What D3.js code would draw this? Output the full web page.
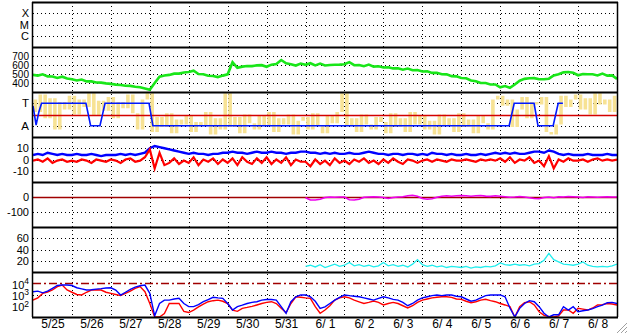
<!DOCTYPE html>
<html><head><meta charset="utf-8">
<script src="https://cdn.jsdelivr.net/npm/d3@7"></script>
<style>
body{margin:0;background:#fff}
svg{display:block}
</style>
</head><body>
<svg id="c" width="628" height="334"></svg>
<script>
// ---------------- DATA ----------------
const dayLabels = ["5/25","5/26","5/27","5/28","5/29","5/30","5/31","6/ 1","6/ 2","6/ 3","6/ 4","6/ 5","6/ 6","6/ 7","6/ 8"];
const stepsPerDay = 8;          // 3-hour samples
const fieldStartDay = 7;        // magenta / cyan series begin 6/1

const xrayTicks = [1e-4, 1e-5, 1e-6];
const xrayLabels = ["X","M","C"];
const speedTicks = [700,600,500,400];
const sectorTicks = [270, 90];
const sectorLabels = ["T","A"];
const sectorMid = 180;
const bTicks = [10,0,-10];
const hpTicks = [0,-100];
const densTicks = [60,40,20];
const protonTicks = [1e4,1e3,1e2];
const protonExp = ["4","3","2"];
const protonThreshold = 1e4;

const speed = [
 490,482,496,474,472,456,470,450,
 442,428,438,418,418,406,404,396,
 390,382,378,370,368,358,352,340,
 325,400,470,484,490,504,504,516,
 522,536,500,498,480,478,466,482,
 496,630,568,582,588,588,596,598,
 580,604,612,655,618,608,594,616,
 602,620,596,616,594,600,602,604,
 608,632,598,600,586,604,582,586,
 572,574,562,564,548,560,542,544,
 528,530,512,514,498,496,476,474,
 456,452,428,420,400,400,384,384,
 352,366,346,384,426,446,452,454,
 442,442,448,484,498,518,522,514,
 486,500,498,498,484,504,482,484,
 445];

const phi = [
 300,200,340,150,310,60,280,220,
 330,180,300,240,350,170,290,210,
 320,150,280,230,340,190,60,300,
 350,40,160,80,190,30,140,100,
 170,40,120,90,200,20,150,60,
 350,80,160,30,180,110,60,170,
 90,200,40,150,100,180,20,130,
 160,60,190,90,30,170,110,200,
 350,90,150,40,180,100,60,160,
 120,30,190,80,150,40,200,100,
 170,60,130,20,180,90,150,40,
 190,80,140,30,170,110,60,300,
 330,250,300,80,220,320,150,280,
 260,320,40,20,100,330,240,300,
 340,220,310,180,350,260,300,200,
 330];

// sector line: [day, degrees]
const sectorDays = [0,0.08,0.15,0.22,1.36,1.48,1.72,1.85,2.98,3.08,12.23,12.36,12.87,12.97,13.36,13.49,13.61];
const sectorVals = [248,96,200,270,270,90,90,270,270,90,90,270,270,90,90,270,270];

const bt = [
 4,5,4,6,5,4,5,4,
 4,5,4,4,5,4,3,4,
 4,4,5,4,5,4,5,6,
 10,12,11,10,9,8,7,6,
 5,6,5,5,4,5,5,6,
 6,7,6,6,5,6,7,6,
 6,7,6,6,5,6,6,7,
 7,6,6,5,6,5,6,5,
 5,6,5,5,6,7,6,5,
 5,4,5,5,4,5,5,4,
 5,4,6,5,5,4,5,4,
 4,5,4,4,5,4,5,6,
 5,6,5,6,5,5,6,7,
 7,6,8,7,5,4,5,4,
 4,4,5,4,4,4,5,4,
 4];

const bz = [
 -1,0,-2,1,-3,-1,0,-2,
 -1,-2,0,-1,-3,0,-1,-2,
 0,-1,-3,0,1,-2,-1,2,
 9,-8,6,-5,-3,1,-4,-1,
 -3,2,-5,0,-2,1,-4,0,
 -3,1,-5,2,-2,-4,1,-3,
 2,-4,0,-3,2,-5,0,-2,
 -2,-6,0,-4,-1,-5,1,-3,
 -1,-4,0,-2,1,-3,-1,-4,
 0,-3,1,-2,-4,0,-1,-3,
 -1,0,-2,0,-1,-2,0,-1,
 -1,0,-1,-2,0,-1,0,-1,
 1,-2,2,-3,0,-1,2,-3,
 -1,-6,3,-8,0,-2,1,-1,
 -1,0,-2,0,1,-1,0,-1,
 0];

const hp = [
 -5,-20,-20,-15,-3,0,-2,0,
 0,-18,-20,-15,-2,0,2,0,
 -3,-10,-3,0,2,8,12,5,
 -10,-15,-12,-2,5,8,5,8,
 10,8,5,8,10,6,4,8,
 5,2,-2,0,3,0,-5,-10,
 -12,-3,0,-5,2,0,3,2,
 0,-3,2,0,-2,0,2,0,
 0];

const dens = [
 10,12,9,13,8,11,14,10,
 12,17,11,13,10,12,9,11,
 17,11,13,10,12,9,14,22,
 13,10,12,9,11,8,10,9,
 8,10,7,9,8,10,9,11,
 16,13,12,14,12,13,11,14,
 15,21,33,22,18,14,13,12,
 14,18,12,10,9,10,9,11,
 14];

// proton flux, log10 exponents
const fluxBlueExp = [
 3.25,3.3,3.15,3.3,3.55,3.8,3.85,3.85,
 3.8,3.6,3.5,3.4,3.42,3.48,3.52,3.58,
 3.6,3.4,2.95,3.2,3.45,3.65,3.78,3.84,
 3.1,1.1,2.2,2.5,2.5,2.6,2.66,2.2,
 1.92,1.92,2.1,2.36,2.55,2.75,2.7,2.66,
 2.2,1.62,1.92,2.05,2.2,2.3,2.36,2.5,
 2.55,2.56,2.5,1.92,1.33,2.36,2.8,2.96,
 2.96,2.8,2.4,1.77,1.9,2.2,2.5,2.75,
 2.96,2.9,2.85,2.8,2.7,2.6,2.5,2.65,
 2.8,2.7,2.57,2.5,2.3,2.0,2.2,2.5,
 2.7,2.8,2.9,2.95,2.9,2.95,2.96,2.85,
 2.8,2.6,2.4,2.5,2.7,2.9,2.96,2.96,
 2.96,2.8,1.8,1.0,1.77,2.2,2.45,2.36,
 1.92,1.33,1.0,1.2,1.2,1.92,1.62,1.92,
 1.47,1.55,1.62,1.75,1.92,2.05,2.27,2.3,
 2.2];
const fluxRedExp = [
 2.5,2.7,3.1,3.22,3.4,3.7,3.84,3.4,
 3.2,3.0,2.96,3.2,3.4,3.42,3.4,3.2,
 3.1,3.0,2.9,3.1,3.3,3.55,3.7,3.25,
 2.2,1.0,1.0,1.3,2.2,2.2,2.2,1.5,
 1.4,1.62,1.9,2.15,2.36,2.45,2.5,2.4,
 2.2,1.6,1.5,1.77,1.85,1.95,2.07,2.2,
 2.3,2.36,2.2,1.77,1.38,2.2,2.8,2.75,
 2.7,2.66,1.92,1.33,1.62,2.0,2.5,2.7,
 2.8,2.7,2.5,2.35,2.2,2.3,2.42,2.3,
 2.07,2.2,2.3,2.2,2.0,1.8,2.0,2.3,
 2.5,2.6,2.7,2.75,2.8,2.8,2.75,2.6,
 2.57,2.4,2.27,2.36,2.5,2.57,2.45,2.36,
 2.2,2.07,1.92,1.0,1.92,2.27,2.36,2.07,
 1.47,1.15,1.05,1.0,1.1,1.62,1.62,1.33,
 1.77,1.7,1.62,1.8,2.07,2.1,2.2,2.15,
 2.07];

// ---------------- DRAW ----------------
const FONT = "'Liberation Sans', Arial, sans-serif";
const svg = d3.select("#c");
const X0 = 33, X1 = 617, PH = 45, TOP = 2;
const x = d3.scaleLinear().domain([0, dayLabels.length]).range([X0, X1]);
const ptop = k => TOP + PH * k;
const snap = v => Math.round(v) + 0.5;

const defs = svg.append("defs");
function panel(k, scale, id) {
  scale.range([ptop(k) + PH, ptop(k)]);
  defs.append("clipPath").attr("id", id).append("rect")
    .attr("x", X0).attr("y", ptop(k)).attr("width", X1 - X0).attr("height", PH);
  return scale;
}
const yX = panel(0, d3.scaleLog().domain([1e-7, 1e-3]), "cp0");
const yV = panel(1, d3.scaleLinear().domain([300, 800]), "cp1");
const yP = panel(2, d3.scaleLinear().domain([0, 360]), "cp2");
const yB = panel(3, d3.scaleLinear().domain([-20, 20]), "cp3");
const yH = panel(4, d3.scaleLinear().domain([-200, 100]), "cp4");
const yD = panel(5, d3.scaleLinear().domain([0, 80]), "cp5");
const yF = panel(6, d3.scaleLog().domain([10, 1e5]), "cp6");

const grid = svg.append("g").attr("stroke", "#000").attr("stroke-width", 1).attr("stroke-dasharray", "1,3");
d3.range(1, dayLabels.length).forEach(d => {
  grid.append("line").attr("x1", snap(x(d))).attr("x2", snap(x(d))).attr("y1", TOP).attr("y2", ptop(7));
});
function hgrid(scale, vals) {
  vals.forEach(v => {
    const yy = snap(scale(v));
    grid.append("line").attr("x1", X0).attr("x2", X1).attr("y1", yy).attr("y2", yy);
  });
}
hgrid(yX, xrayTicks); hgrid(yV, speedTicks); hgrid(yP, sectorTicks); hgrid(yB, bTicks);
hgrid(yH, [-100]); hgrid(yD, densTicks); hgrid(yF, [1e3]);

const tOf = i => i / stepsPerDay;
const tField = i => fieldStartDay + i / stepsPerDay;

function drawLine(data, tfn, scale, clip, color, w, curve) {
  const gen = d3.line().x((d, i) => x(tfn(i))).y(d => scale(d));
  if (curve) gen.curve(curve);
  svg.append("path").datum(data).attr("clip-path", `url(#${clip})`)
    .attr("fill", "none").attr("stroke", color).attr("stroke-width", w)
    .attr("stroke-linejoin", "miter").attr("d", gen);
}

// panel 2 speed
drawLine(speed, tOf, yV, "cp1", "#19e619", 2.6);
// panel 3 sector: phi angle as vertical streaks between successive samples
const phiG = svg.append("g").attr("clip-path", "url(#cp2)").attr("stroke", "#f7e294").attr("stroke-width", 3.6);
phi.slice(0, -1).forEach((v, i) => {
  const xx = x(tOf(i + 0.5));
  phiG.append("line").attr("x1", xx).attr("x2", xx).attr("y1", yP(v)).attr("y2", yP(phi[i + 1]));
});
svg.append("line").attr("x1", X0).attr("x2", X1).attr("y1", snap(yP(sectorMid))).attr("y2", snap(yP(sectorMid)))
  .attr("stroke", "#d40000").attr("stroke-width", 1.6);
svg.append("path").datum(sectorVals).attr("clip-path", "url(#cp2)").attr("fill", "none")
  .attr("stroke", "#0018ff").attr("stroke-width", 1.6)
  .attr("d", d3.line().x((d, i) => x(sectorDays[i])).y(d => yP(d)));
// panel 4 B
drawLine(bt, tOf, yB, "cp3", "#0000ff", 2.4);
drawLine(bz, tOf, yB, "cp3", "#ff0000", 2.2);
// panel 5
svg.append("line").attr("x1", X0).attr("x2", X1).attr("y1", snap(yH(0))).attr("y2", snap(yH(0)))
  .attr("stroke", "#a00000").attr("stroke-width", 1.5);
drawLine(hp, tField, yH, "cp4", "#ee00ee", 1.6);
// panel 6
drawLine(dens, tField, yD, "cp5", "#22eeee", 1.3);
// panel 7
svg.append("line").attr("x1", X0).attr("x2", X1).attr("y1", snap(yF(protonThreshold))).attr("y2", snap(yF(protonThreshold)))
  .attr("stroke", "#a00000").attr("stroke-width", 1.5).attr("stroke-dasharray", "8,3,2,3");
drawLine(fluxRedExp.map(e => Math.pow(10, e)), tOf, yF, "cp6", "#ff0000", 1.4);
drawLine(fluxBlueExp.map(e => Math.pow(10, e)), tOf, yF, "cp6", "#0000ff", 1.4);

// frame
const frame = svg.append("g").attr("stroke", "#000");
d3.range(0, 8).forEach(k => {
  frame.append("line").attr("x1", X0 - 1).attr("x2", X1 + 1).attr("y1", ptop(k) + 0.5).attr("y2", ptop(k) + 0.5).attr("stroke-width", 2);
});
frame.append("line").attr("x1", X0 - 0.5).attr("x2", X0 - 0.5).attr("y1", TOP).attr("y2", ptop(7)).attr("stroke-width", 1.5);
frame.append("line").attr("x1", X1 + 0.5).attr("x2", X1 + 0.5).attr("y1", TOP).attr("y2", ptop(7)).attr("stroke-width", 1.5);

// axes
function yAxis(scale, vals, labels, fs) {
  const g = svg.append("g").attr("transform", `translate(${X0},0)`)
    .call(d3.axisLeft(scale).tickValues(vals).tickSize(0).tickPadding(4)
      .tickFormat((d, i) => labels ? labels[i] : d));
  g.select(".domain").remove();
  g.attr("font-family", FONT).attr("font-size", fs || 10.5);
  g.selectAll("text").attr("fill", "#000");
  return g;
}
yAxis(yX, xrayTicks, xrayLabels, 11);
yAxis(yV, speedTicks, null, 10);
yAxis(yP, sectorTicks, sectorLabels, 11.5);
yAxis(yB, bTicks, null, 11);
yAxis(yH, hpTicks, null, 11);
yAxis(yD, densTicks, null, 11);
const gl = yAxis(yF, protonTicks, protonTicks.map(() => "10"), 11);
gl.selectAll("text").attr("dy", "0.45em").each(function(d, i) {
  d3.select(this).append("tspan").attr("dy", "-0.55em").attr("font-size", 8.5).text(protonExp[i]);
});

const gx = svg.append("g").attr("transform", `translate(0,${ptop(7)})`)
  .call(d3.axisBottom(x).tickValues(dayLabels.map((d, i) => i + 0.5)).tickSize(0).tickPadding(2)
    .tickFormat((d, i) => dayLabels[i]));
gx.select(".domain").remove();
gx.attr("font-family", FONT).attr("font-size", 12);
gx.selectAll("text").attr("fill", "#000");

// window resize grip
const grip = svg.append("g").attr("stroke", "#a0a0a0").attr("stroke-width", 1);
[[617, 333, 627, 323], [621, 333, 627, 327], [625, 333, 627, 331]].forEach(s =>
  grip.append("line").attr("x1", s[0]).attr("y1", s[1]).attr("x2", s[2]).attr("y2", s[3]));
</script>
</body></html>
